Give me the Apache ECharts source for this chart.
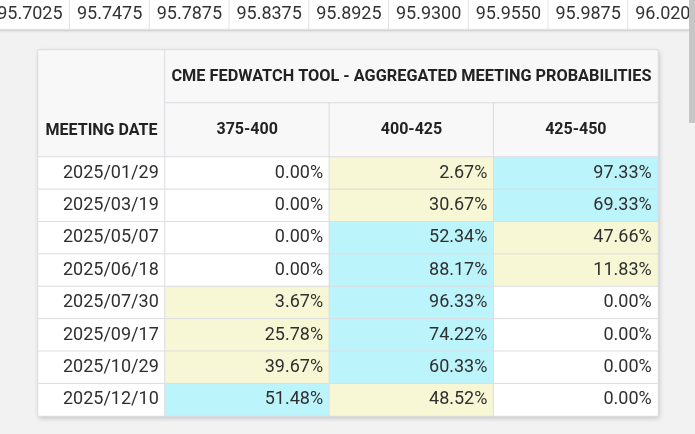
<!DOCTYPE html>
<html><head><meta charset="utf-8">
<script src="https://cdn.jsdelivr.net/npm/echarts@6/dist/echarts.min.js"></script>
<style>html,body{margin:0;padding:0;background:#f2f2f2;overflow:hidden}#c{width:695px;height:434px}</style>
</head><body><div id="c"></div>
<script>
// ---- data ----
const stripValues = ['95.7025','95.7475','95.7875','95.8375','95.8925','95.9300','95.9550','95.9875','96.0200'];
const tableTitle = 'CME FEDWATCH TOOL - AGGREGATED MEETING PROBABILITIES';
const dateHeader = 'MEETING DATE';
const ranges = ['375-400','400-425','425-450'];
const dates = ['2025/01/29','2025/03/19','2025/05/07','2025/06/18','2025/07/30','2025/09/17','2025/10/29','2025/12/10'];
const p375_400 = [0.00,0.00,0.00,0.00,3.67,25.78,39.67,51.48];
const p400_425 = [2.67,30.67,52.34,88.17,96.33,74.22,60.33,48.52];
const p425_450 = [97.33,69.33,47.66,11.83,0.00,0.00,0.00,0.00];
const probs = [p375_400, p400_425, p425_450];

// ---- styles ----
const FONT = 'Roboto';
const BORDER = '#dcdde2';
const HEAD_BG = '#f8f8f8';
const CYAN = '#bcf4fb';
const YELLOW = '#f7f7d5';
const WHITE = '#ffffff';

function axes(gi, xc, yc) {
  return {
    x: {type:'category', gridIndex:gi, data:xc, show:false},
    y: {type:'category', gridIndex:gi, data:yc, show:false, inverse:true}
  };
}
const grids = [
  {left:-10, top:-1, width:717.75, height:30, outerBoundsMode:'none'},   // 0 strip
  {left:38, top:50, width:127, height:107, outerBoundsMode:'none'},      // 1 date header
  {left:165, top:50, width:493, height:53, outerBoundsMode:'none'},      // 2 title
  {left:165, top:103, width:493, height:54, outerBoundsMode:'none'},     // 3 range header
  {left:38, top:157, width:127, height:259, outerBoundsMode:'none'},     // 4 dates
  {left:165, top:157, width:493, height:259, outerBoundsMode:'none'}     // 5 probabilities
];
const axList = [
  axes(0, stripValues, ['s']),
  axes(1, [dateHeader], ['h']),
  axes(2, [tableTitle], ['t']),
  axes(3, ranges, ['r']),
  axes(4, ['d'], dates),
  axes(5, ranges, dates)
];

function cellColor(row, col) {
  const v = probs[col][row];
  if (v === 0) return WHITE;
  const rowVals = probs.map(p => p[row]);
  return v === Math.max(...rowVals) ? CYAN : YELLOW;
}

const baseLabel = {show:true, fontFamily:FONT, color:'#2f2f2f'};
const headLabel = {show:true, fontFamily:FONT, color:'#222', fontWeight:'bold', fontSize:16};
function hm(gi, data, itemStyle, label) {
  return {
    type:'heatmap', xAxisIndex:gi, yAxisIndex:gi, data:data,
    itemStyle:itemStyle, label:label, emphasis:{disabled:true}, silent:true, animation:false
  };
}

const series = [
  hm(0, stripValues.map((v,i)=>({value:[i,0,parseFloat(v)]})),
     {color:WHITE, borderColor:'#e3e3e3', borderWidth:1},
     Object.assign({}, baseLabel, {fontSize:18, color:'#333', formatter:p=>stripValues[p.dataIndex]})),
  hm(1, [{value:[0,0,0]}],
     {color:HEAD_BG, borderColor:BORDER, borderWidth:1},
     Object.assign({}, headLabel, {position:['50%','75%'], align:'center', verticalAlign:'middle', formatter:()=>dateHeader})),
  hm(2, [{value:[0,0,0]}],
     {color:HEAD_BG, borderColor:BORDER, borderWidth:1},
     Object.assign({}, headLabel, {fontSize:16.3, formatter:()=>tableTitle})),
  hm(3, ranges.map((r,i)=>({value:[i,0,0]})),
     {color:HEAD_BG, borderColor:BORDER, borderWidth:1},
     Object.assign({}, headLabel, {formatter:p=>ranges[p.dataIndex]})),
  hm(4, dates.map((d,i)=>({value:[0,i,0]})),
     {color:WHITE, borderColor:BORDER, borderWidth:1},
     Object.assign({}, baseLabel, {fontSize:18, position:'insideRight', distance:7, formatter:p=>dates[p.dataIndex]})),
  hm(5, (function(){
       const out = [];
       for (let c=0;c<probs.length;c++) for (let r=0;r<dates.length;r++)
         out.push({value:[c,r,probs[c][r]], itemStyle:{color:cellColor(r,c)}});
       return out;
     })(),
     {borderColor:BORDER, borderWidth:1},
     Object.assign({}, baseLabel, {fontSize:18, position:'insideRight', distance:7, formatter:p=>p.value[2].toFixed(2)+'%'}))
];

const chart = echarts.init(document.getElementById('c'), null, {renderer:'canvas'});
chart.setOption({
  backgroundColor:'#f2f2f2',
  animation:false,
  grid:grids,
  xAxis:axList.map(a=>a.x),
  yAxis:axList.map(a=>a.y),
  series:series,
  graphic:[
    {type:'rect', z:-1, shape:{x:0,y:27,width:689,height:4}, style:{fill:'#d4d4d4', shadowBlur:3, shadowColor:'rgba(0,0,0,0.15)'}},
    {type:'rect', z:-1, shape:{x:38,y:50,width:620,height:366}, style:{fill:HEAD_BG, shadowBlur:5, shadowOffsetX:1, shadowOffsetY:2, shadowColor:'rgba(0,0,0,0.22)'}},
    {type:'rect', z:100, shape:{x:689,y:0,width:6,height:123}, style:{fill:'#c6c6c6'}}
  ]
});
</script></body></html>
